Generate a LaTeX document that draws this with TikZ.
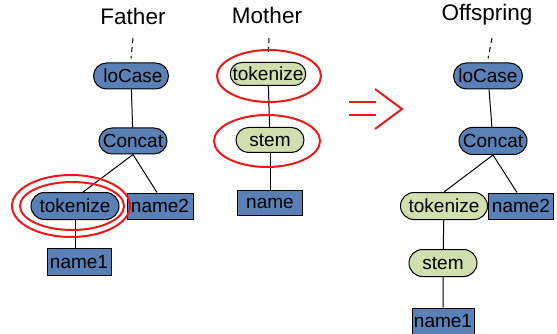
\documentclass[tikz,border=0pt]{standalone}
\usepackage{fontspec}
\setmainfont{Liberation Sans}
\usetikzlibrary{shapes.misc}
\definecolor{gpblue}{RGB}{91,128,181}
\definecolor{gpgreen}{RGB}{209,223,174}
\definecolor{gpred}{RGB}{238,24,24}

\tikzset{
  fun/.style={rounded rectangle, draw, line width=1pt, inner sep=0pt, minimum height=26pt, font=\fontsize{19}{22}\selectfont},
  bluefun/.style={fun, fill=gpblue},
  greenfun/.style={fun, fill=gpgreen},
  term/.style={rectangle, draw, line width=1pt, fill=gpblue, inner sep=0pt, minimum height=26pt, font=\fontsize{19}{22}\selectfont},
  title/.style={font=\fontsize{22.5}{26}\selectfont},
  wire/.style={line width=1pt},
  ring/.style={draw=gpred, line width=2pt}
}

\begin{document}
\begin{tikzpicture}[x=1pt, y=-1pt]
	\useasboundingbox (0,0) rectangle (557,334);
	% Father:
	\node[title](FT) at (133,16){Father};
	\coordinate (F0) at (133,38);
	\node[bluefun, minimum width=75pt](F1) at (131,76){\hspace{4pt}loCase};
	\node[bluefun, minimum width=68pt](F2) at (133,141){Concat};
	\node[bluefun, minimum width=88pt, minimum height=27pt](F3) at (75,206){tokenize};
	\node[term, minimum width=66pt](F4) at (160,206){name2};
	\node[term, minimum width=64pt, minimum height=27pt](F5) at (79,262){name1};
	\draw[wire, dashed, dash pattern=on 5pt off 4pt] (F0) -- ([yshift=4pt]F1.north);
	\draw[wire] (F1) -- (F2);
	\draw[wire] (F2.south) -- (F3.60);
	\draw[wire] (F2.south) -- ([xshift=-3pt]F4.north);
	\draw[wire] (F3.south) -- (F3.south |- F5.north);
	\draw[ring] (71,206) ellipse [x radius=59, y radius=31];
	\draw[ring] (72,206) ellipse [x radius=52, y radius=24];

	% Mother:
	\node[title](MT) at (267,15){Mother};
	\coordinate (M0) at (269,38);
	\node[greenfun, minimum width=75pt, minimum height=23pt](M1) at (268,74){tokenize};
	\node[greenfun, minimum width=68pt, minimum height=25pt](M2) at (270,140){stem};
	\node[term, minimum width=65pt, minimum height=25pt](M3) at (270,203){name};
	\draw[wire, dashed, dash pattern=on 5pt off 4pt] (M0) -- ([yshift=6pt]M1.north);
	\draw[wire] (M1) -- (M2);
	\draw[wire] (M2) -- (M3);
	\draw[ring] (269,76) ellipse [x radius=52, y radius=26];
	\draw[ring] (267,141) ellipse [x radius=53, y radius=26];

	% Arrow:
	\draw[ring] (349,102) -- (376,102);
	\draw[ring] (349,115) -- (376,115);
	\draw[ring] (375,89) -- (402,109) -- (375,129);

	% Offspring:
	\node[title](OT) at (487,15){Offspring};
	\coordinate (O0) at (492,38);
	\node[bluefun, minimum width=69pt](O1) at (488,76){loCase};
	\node[bluefun, minimum width=68pt, minimum height=27pt](O2) at (493,141){Concat};
	\node[greenfun, minimum width=87pt, minimum height=27pt](O3) at (444,206){tokenize};
	\node[term, minimum width=65pt](O4) at (521,206){name2};
	\node[greenfun, minimum width=68pt, minimum height=27pt](O5) at (443,263){stem};
	\node[term, minimum width=62pt](O6) at (443,321){name1};
	\draw[wire, dashed, dash pattern=on 5pt off 4pt] (O0) -- ([yshift=4pt]O1.north);
	\draw[wire] (O1) -- (O2);
	\draw[wire] (O2.south) -- (O3.north);
	\draw[wire] (O2.south) -- ([xshift=-4pt]O4.north);
	\draw[wire] (O3) -- (O5);
	\draw[wire] (O5) -- (O6);
\end{tikzpicture}
\end{document}
